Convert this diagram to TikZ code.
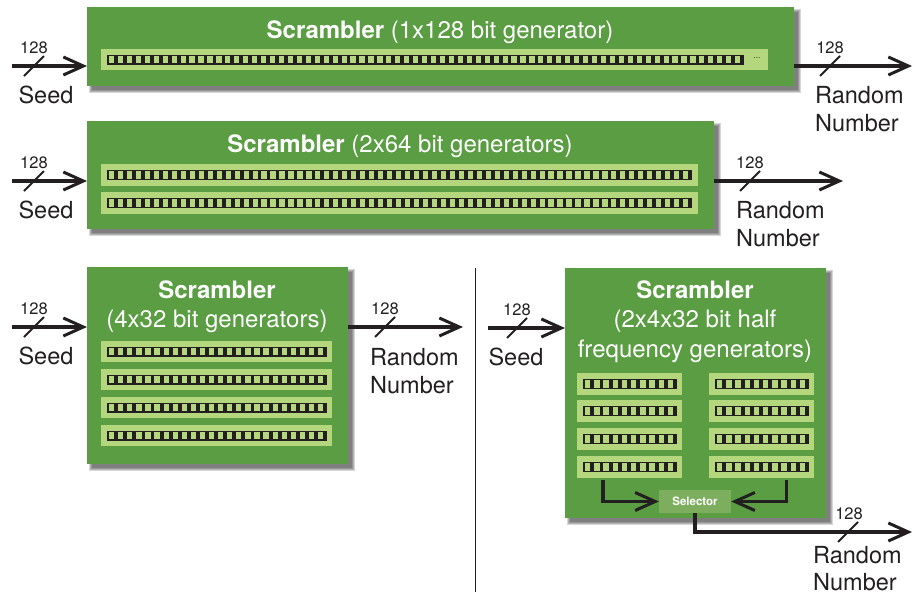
\documentclass[tikz,border=0pt]{standalone}
\usepackage{fontspec}
\setmainfont{TeX Gyre Heros}
\usetikzlibrary{arrows.meta,calc,backgrounds}

\definecolor{boxgreen}{RGB}{90,157,66}
\definecolor{reggreen}{RGB}{180,214,124}
\definecolor{selgreen}{RGB}{124,174,94}
\definecolor{ink}{RGB}{35,31,32}

\tikzset{
  box/.style={fill=boxgreen, draw=none, inner sep=0pt, anchor=north west},
  regbg/.style={fill=reggreen, draw=none, inner sep=0pt, anchor=north west},
  wire/.style={line width=3.5pt, draw=ink,
    -{Straight Barb[length=20pt,width=18pt,line width=3pt]}},
  title/.style={text=white, inner sep=0pt, anchor=base, font=\fontsize{24}{28}\selectfont},
  lbl/.style={text=ink, inner sep=0pt, font=\fontsize{23.5}{28}\selectfont},
  width/.style={text=ink, inner sep=0pt, anchor=base, font=\fontsize{16.5}{18}\selectfont},
  bus/.pic={\draw[line width=2pt, ink] (-10,10) -- (10,-10);},
}

% soft drop shadow behind a named box
\newcommand\boxshadow[1]{%
  \begin{scope}[on background layer]
    \foreach \e in {2.5,1.5,0.5,-0.5} {
      \fill[black, opacity=0.16]
        ($(#1.north west)+({4-(\e)},{4-(\e)})$) rectangle
        ($(#1.south east)+({4+(\e)},{4+(\e)})$);
    }
  \end{scope}}

% generator register: name, x1, y1, x2, y2, number of cells, right inset of the bar
\newcommand\genreg[7]{%
  \node[regbg, minimum width={(#4-#2)*1pt}, minimum height={(#5-#3)*1pt}] (#1) at (#2,#3) {};
  \pgfmathsetmacro\ba{#2+6}%
  \pgfmathsetmacro\bb{#4-#7}%
  \pgfmathsetmacro\yc{(#3+#5)/2}%
  \pgfmathsetmacro\pp{(\bb-\ba-2)/#6}%
  \fill[ink] (\ba,{\yc-5}) rectangle (\bb,{\yc+5});
  \foreach \i in {1,...,#6} {
    \fill[reggreen] ({\ba+2+(\i-1)*\pp},{\yc-3.6}) rectangle ++({0.58*\pp},7.2);
  }}

\begin{document}
\begin{tikzpicture}[x=1pt,y=-1pt]
\useasboundingbox (0,0) rectangle (915,597);

% ---------- scrambler boxes ----------
\node[box, minimum width=707pt, minimum height=79pt] (b1) at (87,7) {};
\node[box, minimum width=627pt, minimum height=108pt] (b2) at (87,121) {};
\node[box, minimum width=261pt, minimum height=197pt] (b3) at (87,267) {};
\node[box, minimum width=261pt, minimum height=250pt] (b4) at (565,268) {};
\boxshadow{b1}\boxshadow{b2}\boxshadow{b3}\boxshadow{b4}

% titles
\node[title] (t1) at (440,38) {\textbf{Scrambler} (1x128 bit generator)};
\node[title] (t2) at (400,152) {\textbf{Scrambler} (2x64 bit generators)};
\node[title] (t3a) at (217,298) {\textbf{Scrambler}};
\node[title] (t3b) at (217,327) {(4x32 bit generators)};
\node[title] (t4a) at (695,298) {\textbf{Scrambler}};
\node[title] (t4b) at (695,327) {(2x4x32 bit half};
\node[title] (t4c) at (695,357) {frequency generators)};

% ---------- registers ----------
\genreg{g1}{101}{49}{768}{70}{71}{24}
\node[text=ink, inner sep=0pt, font=\fontsize{8}{9}\selectfont] (dots) at (757,58) {...};

\genreg{g2a}{101}{164}{698}{186}{65}{6}
\genreg{g2b}{101}{192}{698}{214}{65}{6}

\genreg{g3a}{101}{341}{332}{362}{24}{5}
\genreg{g3b}{101}{369}{332}{390}{24}{5}
\genreg{g3c}{101}{397}{332}{418}{24}{5}
\genreg{g3d}{101}{425}{332}{446}{24}{5}

\genreg{L1}{577}{373}{682}{395}{10}{5}
\genreg{L2}{577}{400}{682}{422}{10}{5}
\genreg{L3}{577}{428}{682}{450}{10}{5}
\genreg{L4}{577}{456}{682}{478}{10}{5}
\genreg{R1}{709}{373}{814}{395}{10}{5}
\genreg{R2}{709}{400}{814}{422}{10}{5}
\genreg{R3}{709}{428}{814}{450}{10}{5}
\genreg{R4}{709}{456}{814}{478}{10}{5}

% selector
\node[fill=selgreen, minimum width=72pt, minimum height=23pt, inner sep=0pt,
      text=white, font=\bfseries\fontsize{11.5}{12}\selectfont] (sel) at (695,501.5) {Selector};
\draw[wire] ([xshift=26pt,yshift=-2pt]L4.south west) |- (sel.west);
\draw[wire] ([xshift=-28pt,yshift=-2pt]R4.south east) |- (sel.east);

% ---------- seed inputs ----------
\coordinate (s1) at (12,66);
\coordinate (s2) at (12,181);
\coordinate (s3) at (12,327);
\coordinate (s4) at (488,328);
\draw[wire] (s1) -- (s1 -| b1.west);
\draw[wire] (s2) -- (s2 -| b2.west);
\draw[wire] (s3) -- (s3 -| b3.west);
\draw[wire] (s4) -- (s4 -| b4.west);
\pic at (34,66) {bus};
\pic at (34,181) {bus};
\pic at (34,327) {bus};
\pic at (517,328) {bus};
\node[width] (w1) at (34,53) {128};
\node[width] (w2) at (34,168) {128};
\node[width] (w3) at (34,314) {128};
\node[width] (w4) at (517,315) {128};
\node[lbl, anchor=base] (seed1) at (46,103) {Seed};
\node[lbl, anchor=base] (seed2) at (46,218) {Seed};
\node[lbl, anchor=base] (seed3) at (46,364) {Seed};
\node[lbl, anchor=base] (seed4) at (516,365) {Seed};

% ---------- random number outputs ----------
\coordinate (r1) at (912,66);
\coordinate (r2) at (843,181);
\coordinate (r3) at (463,327);
\coordinate (r4) at (912,532);
\draw[wire] (b1.east |- r1) -- (r1);
\draw[wire] (b2.east |- r2) -- (r2);
\draw[wire] (b3.east |- r3) -- (r3);
\draw[wire] (sel.south) |- (r4);
\pic at (830,66) {bus};
\pic at (750,181) {bus};
\pic at (385,327) {bus};
\pic at (848,532) {bus};
\node[width] (o1) at (830,53) {128};
\node[width] (o2) at (750,168) {128};
\node[width] (o3) at (385,314) {128};
\node[width] (o4) at (849,519) {128};
\node[lbl, anchor=base west] (rn1) at (815,103) {Random};
\node[lbl, anchor=base west] (nb1) at (815,131) {Number};
\node[lbl, anchor=base west] (rn2) at (736,218) {Random};
\node[lbl, anchor=base west] (nb2) at (736,246) {Number};
\node[lbl, anchor=base west] (rn3) at (370,365) {Random};
\node[lbl, anchor=base west] (nb3) at (370,393) {Number};
\node[lbl, anchor=base west] (rn4) at (813,563) {Random};
\node[lbl, anchor=base west] (nb4) at (813,590) {Number};

% divider between the two lower variants
\coordinate (d1) at (475,268);
\coordinate (d2) at (475,592);
\draw[line width=1pt, ink] (d1) -- (d2);
\end{tikzpicture}
\end{document}
